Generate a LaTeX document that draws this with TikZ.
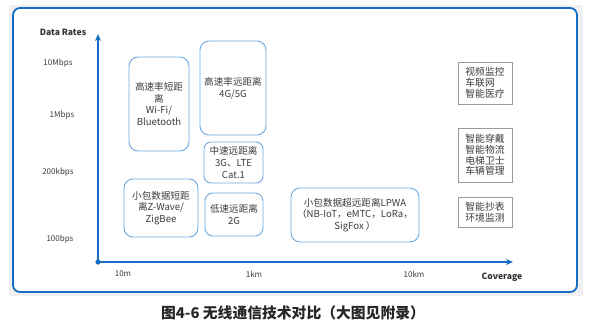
\documentclass[tikz,border=0pt]{standalone}
\usepackage{fontspec}
\usetikzlibrary{arrows.meta}
\newfontfamily\cjk{Noto Sans CJK SC}
\setmainfont{Noto Sans CJK SC}
\definecolor{frameblue}{RGB}{22,110,196}
\definecolor{boxblue}{RGB}{110,170,225}
\definecolor{txt}{RGB}{60,60,60}
\begin{document}
\begin{tikzpicture}[x=1pt,y=-1pt,
  tbox/.style={draw=boxblue,line width=0.9pt,rounded corners=9pt,align=center,inner sep=0pt,
    text=txt,font=\cjk\fontsize{9.6}{11.6}\selectfont},
  gbox/.style={draw=gray!80,line width=0.8pt,align=left,inner sep=0pt,
    text=txt,font=\cjk\fontsize{9.8}{10.8}\selectfont},
  axlab/.style={text=txt,font=\cjk\fontsize{8}{9}\selectfont},
  axtitle/.style={text=black!80,font=\cjk\bfseries\fontsize{8.6}{10}\selectfont}]
\useasboundingbox (0,0) rectangle (591,330);
% frame
\fill[gray!12] (9,5) rectangle (583,296);
\draw[frameblue,line width=1.8pt,fill=white,rounded corners=7pt] (13,8) rectangle (577,292);
% axes
\coordinate (O) at (98,262);
\coordinate (Ytop) at (98,34);
\coordinate (Xend) at (513,262);
\draw[frameblue,line width=1.5pt,-{Stealth[length=7pt,width=6pt]}] (O) -- (Ytop);
\draw[frameblue,line width=1.5pt,-{Stealth[length=7pt,width=6pt]}] (O) -- (Xend);
\fill[frameblue] (O) circle (2.6pt);
% axis labels
\node[axtitle] (dr) at (63,32) {Data Rates};
\node[axlab] (y1) at (58,63) {10Mbps};
\node[axlab] (y2) at (62,115) {1Mbps};
\node[axlab] (y3) at (58,172) {200kbps};
\node[axlab] (y4) at (60,239) {100bps};
\node[axlab] (x1) at (123,274) {10m};
\node[axlab] (x2) at (254,274) {1km};
\node[axlab] (x3) at (414,274) {10km};
\node[axtitle] (cov) at (502,277) {Coverage};
% technology boxes
\node[tbox,minimum width=60pt,minimum height=94pt] (b1) at (159,104) {高速率短距\\离\\Wi-Fi/\\Bluetooth};
\node[tbox,minimum width=66pt,minimum height=94pt] (b2) at (233,88) {高速率远距离\\4G/5G};
\node[tbox,rounded corners=7pt,minimum width=59pt,minimum height=41pt] (b3) at (233.5,162.5) {中速远距离\\3G、LTE\\Cat.1};
\node[tbox,minimum width=74pt,minimum height=58pt] (b4) at (161,208) {小包数据短距\\离Z-Wave/\\ZigBee};
\node[tbox,rounded corners=8pt,minimum width=58pt,minimum height=43pt] (b5) at (234,214.5) {低速远距离\\2G};
\node[tbox,minimum width=128pt,minimum height=54pt] (b6) at (355,215) {小包数据超远距离LPWA\\（NB-IoT，eMTC，LoRa，\\SigFox ）};
% application boxes
\node[gbox,minimum width=54pt,minimum height=42pt] (a1) at (485,83) {视频监控\\车联网\\智能医疗};
\node[gbox,minimum width=54pt,minimum height=54pt] (a2) at (485,155) {智能穿戴\\智能物流\\电梯卫士\\车辆管理};
\node[gbox,minimum width=54pt,minimum height=30pt] (a3) at (485,212) {智能抄表\\环境监测};
% caption
\node[text=black!85,font=\cjk\bfseries\fontsize{14.8}{17}\selectfont] (cap) at (293,313) {图4-6\ 无线通信技术对比（大图见附录）};
\end{tikzpicture}
\end{document}
